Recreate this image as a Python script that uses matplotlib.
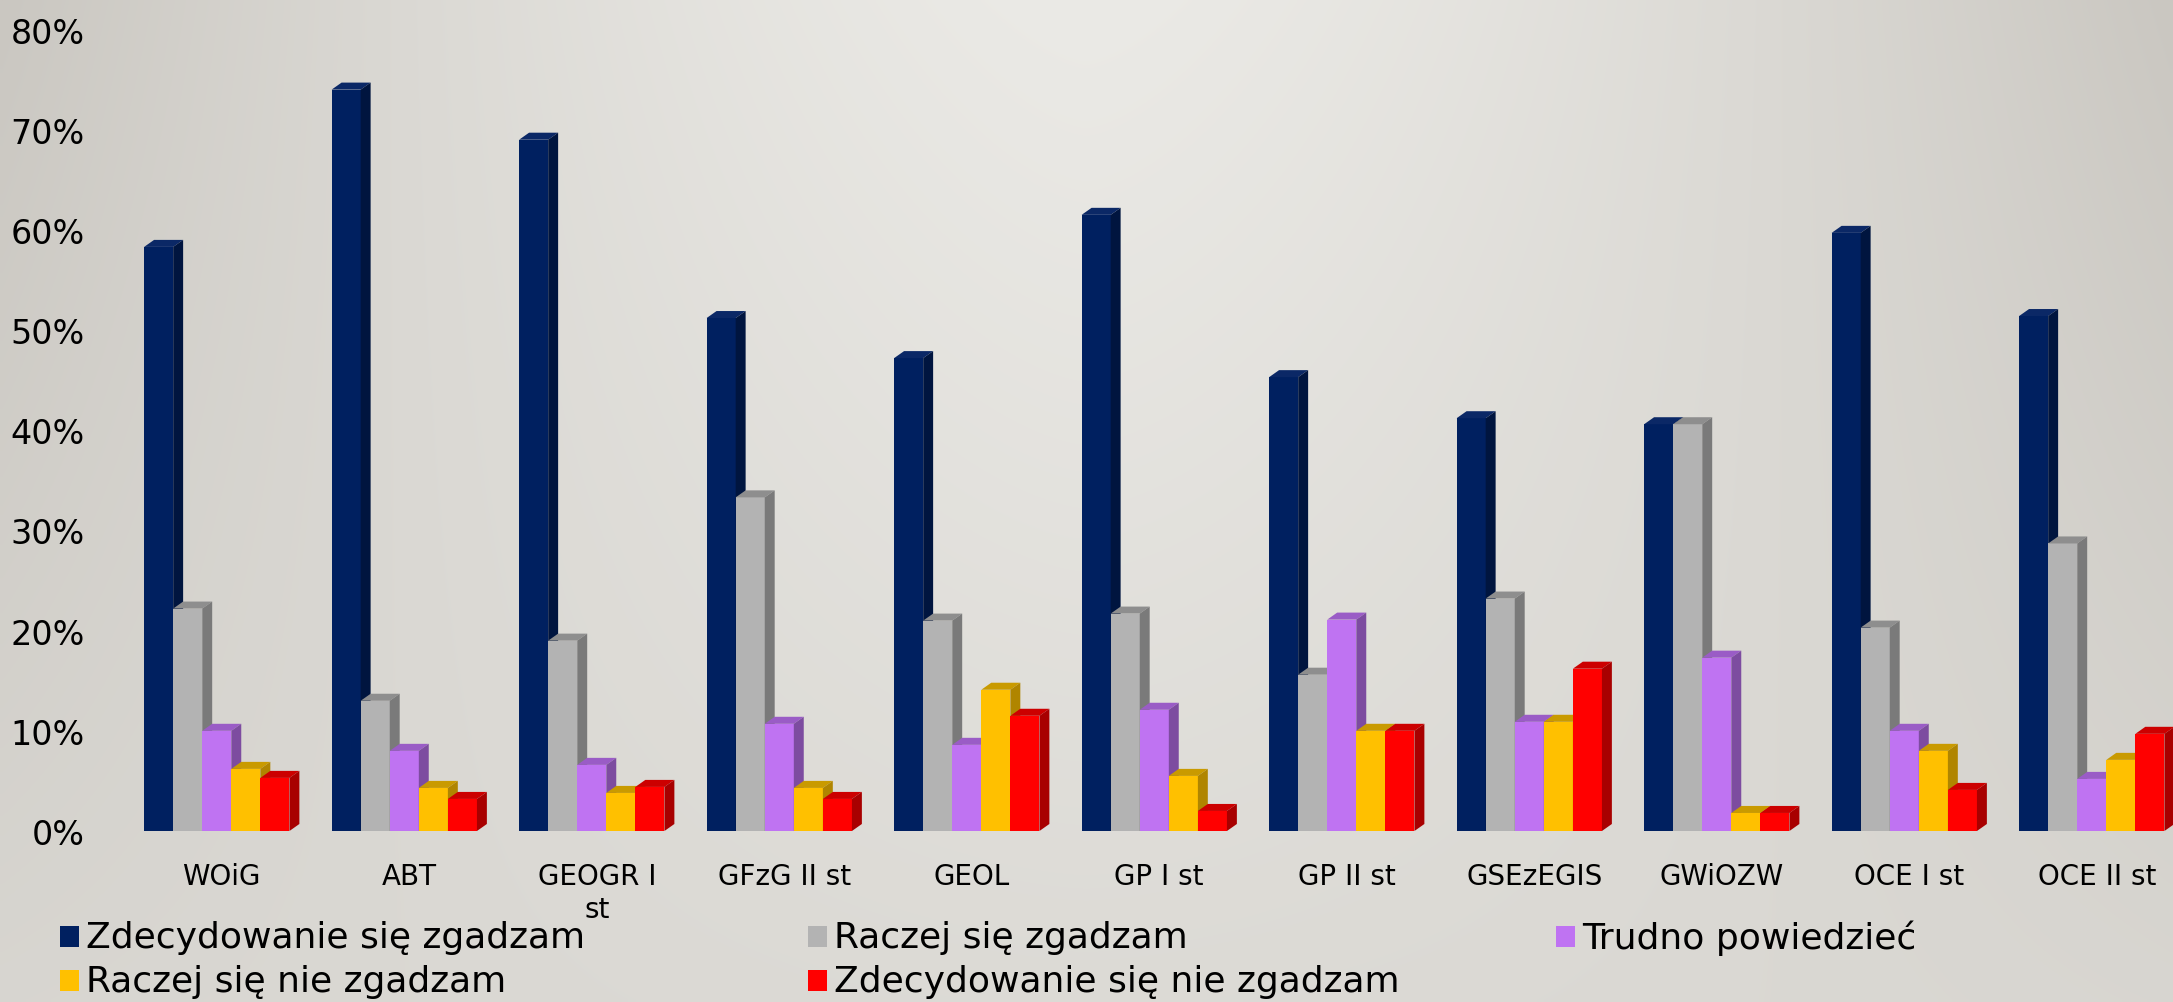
import matplotlib
matplotlib.use("Agg")
import matplotlib.pyplot as plt
import numpy as np
from matplotlib.patches import Polygon, Rectangle

# data
categories = ['WOiG', 'ABT', 'GEOGR I\nst', 'GFzG II st', 'GEOL', 'GP I st',
              'GP II st', 'GSEzEGIS', 'GWiOZW', 'OCE I st', 'OCE II st']
series_names = ['Zdecydowanie się zgadzam', 'Raczej się zgadzam', 'Trudno powiedzieć',
                'Raczej się nie zgadzam', 'Zdecydowanie się nie zgadzam']
zdecydowanie_tak = [58.3, 74.0, 69.0, 51.2, 47.2, 61.5, 45.3, 41.2, 40.6, 59.7, 51.4]
raczej_tak = [22.2, 13.0, 19.0, 33.3, 21.0, 21.7, 15.6, 23.2, 40.6, 20.3, 28.7]
trudno = [10.0, 8.0, 6.6, 10.7, 8.6, 12.1, 21.1, 10.9, 17.3, 10.0, 5.2]
raczej_nie = [6.2, 4.3, 3.8, 4.3, 14.1, 5.5, 10.0, 10.9, 1.8, 8.0, 7.1]
zdecydowanie_nie = [5.3, 3.2, 4.4, 3.2, 11.5, 2.0, 10.0, 16.2, 1.8, 4.1, 9.7]
yticks = [0, 10, 20, 30, 40, 50, 60, 70, 80]

series = [zdecydowanie_tak, raczej_tak, trudno, raczej_nie, zdecydowanie_nie]
# front, side, top
colors = [('#002060', '#00153f', '#0b2866'),
          ('#b3b3b3', '#7a7a7a', '#8e8e8e'),
          ('#bf73f2', '#7d4ca0', '#9a5cc6'),
          ('#ffc000', '#b08500', '#c99a00'),
          ('#ff0000', '#a80000', '#cc0000')]

W, H = 2173, 1003
fig = plt.figure(figsize=(W / 100, H / 100), dpi=100)

# background gradient
bg = fig.add_axes([0, 0, 1, 1], zorder=-10)
yy, xx = np.mgrid[0:1:200j, 0:1:400j]
u = np.abs(xx - 0.5) * 2
t = np.clip(0.45 * yy + u ** 1.5 * (1 - 0.87 * yy), 0, 1)
light = np.array([235, 234, 230]) / 255
dark = np.array([202, 199, 193]) / 255
img = light[None, None, :] * (1 - t[..., None]) + dark[None, None, :] * t[..., None]
bg.imshow(img, aspect='auto', extent=[0, 1, 0, 1], interpolation='bilinear')
bg.axis('off')

ax = fig.add_axes([128 / W, 1 - 832 / H, 2062.5 / W, 801.5 / H])
ax.patch.set_alpha(0)

w = 0.155
dx = 0.053
dy = 0.7
for j, vals in enumerate(series):
    front, side, top = colors[j]
    x0s = np.arange(len(categories)) - 0.414 + j * w
    ax.bar(x0s, vals, width=w, align='edge', color=front, linewidth=0, zorder=2 + j)
    for x0, h in zip(x0s, vals):
        x1 = x0 + w
        ax.add_patch(Polygon([(x0, h), (x1, h), (x1 + dx, h + dy), (x0 + dx, h + dy)],
                             closed=True, facecolor=top, linewidth=0, zorder=2 + j))
        ax.add_patch(Polygon([(x1, 0), (x1, h), (x1 + dx, h + dy), (x1 + dx, dy)],
                             closed=True, facecolor=side, linewidth=0, zorder=2 + j))

ax.set_xlim(-0.5, 10.5)
ax.set_ylim(0, 80)
ax.set_xticks(range(len(categories)))
ax.set_xticklabels(categories, fontsize=20, linespacing=1.25)
ax.set_yticks(yticks)
ax.set_yticklabels([f'{v}%' for v in yticks], fontsize=24)
ax.tick_params(axis='x', length=0, pad=22)
ax.tick_params(axis='y', length=0, pad=31)
for s in ax.spines.values():
    s.set_visible(False)

# legend drawn by hand (3 columns)
col_x = [60, 808, 1556]
row_y = [938, 982]
for k, name in enumerate(series_names):
    r, c = divmod(k, 3)
    x, y = col_x[c], row_y[r]
    fig.add_artist(Rectangle((x / W, 1 - (y + 10) / H), 19 / W, 21 / H,
                             transform=fig.transFigure, facecolor=colors[k][0],
                             linewidth=0))
    fig.text((x + 26) / W, 1 - y / H, name, fontsize=26, va='center', ha='left')

fig.savefig('out.png', dpi=100)
